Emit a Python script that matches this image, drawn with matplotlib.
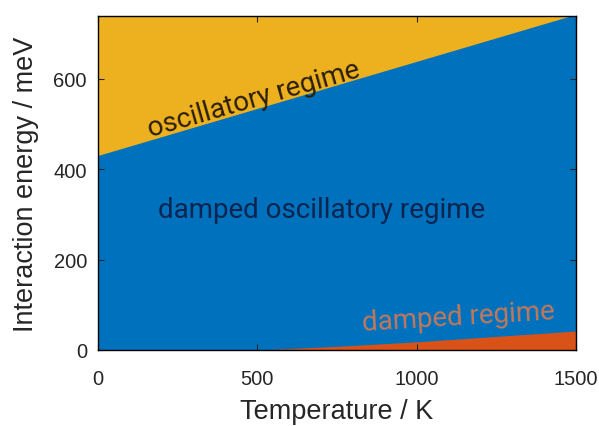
import numpy as np
import matplotlib
matplotlib.use("Agg")
from matplotlib import pyplot as plt

# boundary between oscillatory and damped oscillatory regime
temp_upper = [0, 1500]
energy_upper = [430, 742]

# boundary of the damped regime
temp_lower = [500, 750, 1000, 1250, 1500]
energy_lower = [0, 8, 18, 30, 42]

x_ticks = [0, 500, 1000, 1500]
y_ticks = [0, 200, 400, 600]
y_max = 738

c_blue = '#0072BD'
c_orange = '#D95319'
c_yellow = '#EDB120'

plt.rcParams['font.family'] = ['Liberation Sans', 'DejaVu Sans']

fig = plt.figure(figsize=(5.99, 4.27), dpi=100)
ax = fig.add_axes([0.1636, 0.178, 0.798, 0.782])

# whole area blue, then yellow above and orange below
ax.fill_between([0, 1500], 0, y_max + 50, color=c_blue, lw=0)
ax.fill_between(temp_upper, energy_upper, y_max + 50, color=c_yellow, lw=0)
ax.fill_between(temp_lower, 0, energy_lower, color=c_orange, lw=0)

ax.set_xlim(0, 1500)
ax.set_ylim(0, y_max)
ax.set_xticks(x_ticks)
ax.set_yticks(y_ticks)
ax.tick_params(direction='in', length=4, labelsize=14.5, colors='#262626',
               top=True, right=True)
ax.tick_params(axis='x', pad=14)
ax.tick_params(axis='y', pad=8)
for s in ax.spines.values():
    s.set_linewidth(1.0)

ax.set_xlabel('Temperature / K', fontsize=19.5, color='#262626', labelpad=7)
ax.set_ylabel('Interaction energy / meV', fontsize=19.5, color='#262626', labelpad=10)

txt = dict(family=['Roboto', 'DejaVu Sans'], fontsize=20, ha='center', va='center')
ax.text(490, 556, 'oscillatory regime', rotation=16, color='#2b1e08', **txt)
ax.text(702, 310, 'damped oscillatory regime', color='#0b2450', **txt)
ax.text(1132, 73, 'damped regime', rotation=3.5, color='#c2785a', **txt)

fig.savefig('out.png', dpi=100)
